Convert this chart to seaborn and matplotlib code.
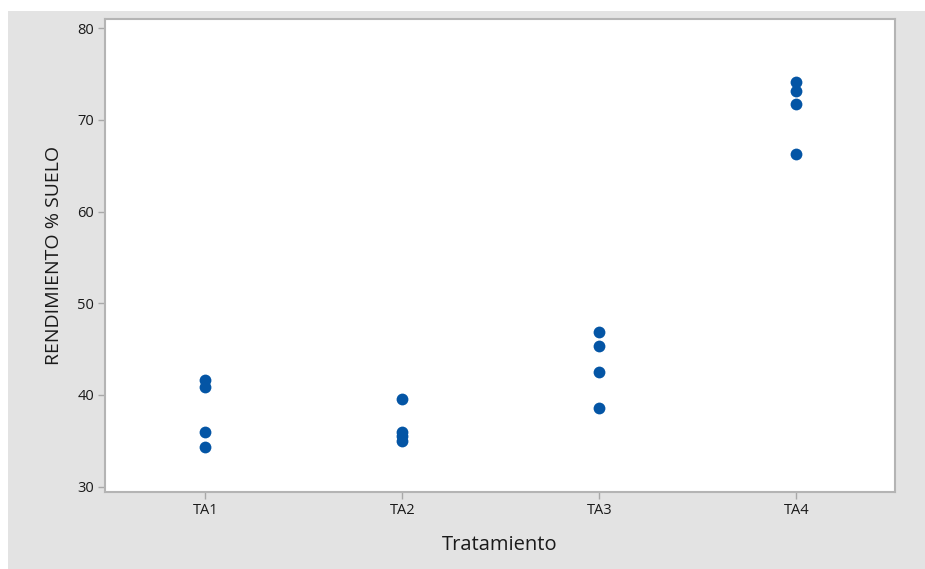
import pandas as pd
import matplotlib.pyplot as plt
import seaborn as sns
from matplotlib.patches import Rectangle

# Datos
tratamiento = ["TA1"] * 4 + ["TA2"] * 4 + ["TA3"] * 4 + ["TA4"] * 4
rendimiento = [41.6, 40.9, 35.9, 34.3,
               39.6, 36.0, 35.5, 35.0,
               46.9, 45.3, 42.5, 38.6,
               74.1, 73.2, 71.7, 66.3]
orden = ["TA1", "TA2", "TA3", "TA4"]
yticks = [30, 40, 50, 60, 70, 80]

df = pd.DataFrame({"Tratamiento": tratamiento, "Rendimiento": rendimiento})

sns.set_style("white")
plt.rcParams['font.family'] = ['Open Sans', 'DejaVu Sans']

fig = plt.figure(figsize=(9.25, 5.69), dpi=100)
fig.patch.set_facecolor("white")
# panel gris de fondo
fig.patches.append(Rectangle((8 / 925, 0), 1, (569 - 11) / 569,
                             transform=fig.transFigure, facecolor="#e3e3e3",
                             edgecolor="none", zorder=-1))

ax = fig.add_axes([105 / 925, (569 - 492) / 569, 790 / 925, (492 - 19) / 569])
ax.set_facecolor("white")

sns.stripplot(data=df, x="Tratamiento", y="Rendimiento", order=orden,
              jitter=False, color="#0455a5", size=8.5, linewidth=0, ax=ax)

ax.set_xlim(-0.51, 3.5)
ax.set_ylim(29.4, 81.0)
ax.set_yticks(yticks)

for s in ax.spines.values():
    s.set_color("#b4b4b4")
    s.set_linewidth(1.5)

ax.tick_params(axis="both", direction="out", length=5, width=1,
               bottom=True, left=True,
               color="#a8a8a8", labelsize=10.5, labelcolor="#1a1a1a", pad=3)
ax.set_xlabel("Tratamiento", fontsize=14.5, color="#1a1a1a", labelpad=12)
ax.set_ylabel("RENDIMIENTO % SUELO", fontsize=14, color="#1a1a1a",
              labelpad=10, fontweight="medium")

fig.savefig("out.png", dpi=100, facecolor=fig.get_facecolor())
